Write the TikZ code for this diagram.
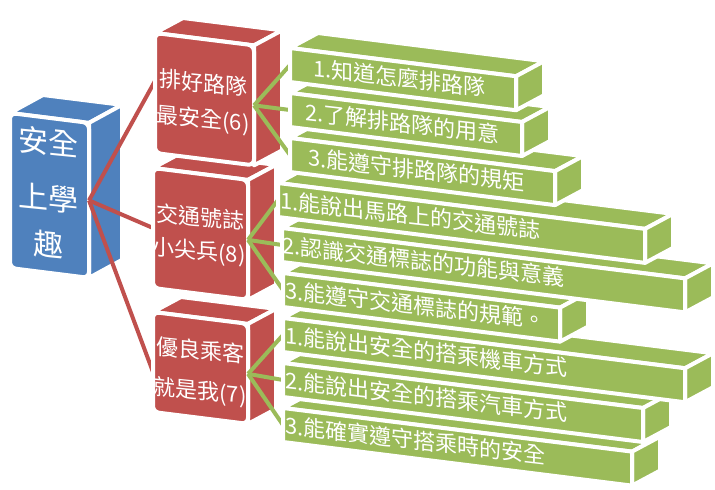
\documentclass[tikz,border=0pt]{standalone}
\usepackage{fontspec}
\setmainfont{Noto Sans CJK TC}
\usetikzlibrary{calc}
\definecolor{myblue}{HTML}{4F81BD}
\definecolor{myred}{HTML}{C0504D}
\definecolor{mygreen}{HTML}{9BBB59}
\def\slope{0.125}
\def\cdx{28}
\def\cdy{-15}
% #1 name #2 x #3 y #4 w #5 h #6 colour #7 extra front style
\newcommand\tdbox[7]{%
 \coordinate (#1-a) at (#2,#3);
 \coordinate (#1-b) at ({#2+#4},{#3+\slope*#4});
 \coordinate (#1-c) at ({#2+#4},{#3+\slope*#4+#5});
 \coordinate (#1-d) at (#2,{#3+#5});
 \coordinate (#1-w) at (#2,{#3+#5/2});
 \coordinate (#1-e) at ({#2+#4},{#3+\slope*#4+#5/2});
 \path[face,fill=#6] (#1-a) -- ++(\cdx,\cdy) -- ($(#1-b)+(\cdx,\cdy)$) -- (#1-b) -- cycle;
 \path[face,fill=#6] (#1-b) -- ++(\cdx,\cdy) -- ($(#1-c)+(\cdx,\cdy)$) -- (#1-c) -- cycle;
 \path[face,fill=#6,#7] (#1-a) -- (#1-b) -- (#1-c) -- (#1-d) -- cycle;
}
% #1 name #2 x #3 y #4 w #5 text x #6 text
\newcommand\gbar[6]{%
 \tdbox{#1}{#2}{#3}{#4}{34}{mygreen}{}
 \node[gtext] (#1t) at ({#5},{#3+17+\slope*(#5-#2)}) {#6};
}
\begin{document}
\begin{tikzpicture}[x=1pt,y=-1pt,
  face/.style={draw=white,line width=4pt,line join=round},
  gtext/.style={anchor=west,inner sep=0pt,text=white,font=\fontsize{22}{22}\selectfont,yslant=-0.115},
  rtext/.style={anchor=center,inner sep=0pt,text=white,font=\fontsize{22}{22}\selectfont,yslant=-0.1},
  btext/.style={anchor=center,inner sep=0pt,text=white,font=\fontsize{30}{30}\selectfont,yslant=-0.1},
  rline/.style={draw=myred,line width=4pt},
  gline/.style={draw=mygreen,line width=4pt}]
\useasboundingbox (0,0) rectangle (715,490);

% blue root
\begingroup
\def\cdx{33}\def\cdy{-18}
\tdbox{B}{10}{113}{79}{155}{myblue}{rounded corners=6pt}
\endgroup
\node[btext] (b1) at (48,142) {安全};
\node[btext] (b2) at (48,198) {上學};
\node[btext] (b3) at (48,245) {趣};

% red connectors (targets on the red boxes' left edges)
\coordinate (R1-in) at (155,81);
\coordinate (R2-in) at (153,228);
\coordinate (R3-in) at (153,372);
\draw[rline] (B-e) -- (R1-in);
\draw[rline] (B-e) -- (R2-in);
\draw[rline] (B-e) -- (R3-in);

% red boxes
\tdbox{R3}{153}{312}{95}{100}{myred}{rounded corners=6pt}
\tdbox{R2}{153}{168}{95}{120}{myred}{rounded corners=6pt}
\tdbox{R1}{155}{33}{99}{120}{myred}{rounded corners=6pt}
\node[rtext] (r1a) at (203,83) {排好路隊};
\node[rtext] (r1b) at (203,120) {最安全(6)};
\node[rtext] (r2a) at (200,217) {交通號誌};
\node[rtext] (r2b) at (199,252) {小尖兵(8)};
\node[rtext] (r3a) at (200,350) {優良乘客};
\node[rtext] (r3b) at (200,392) {就是我(7)};

% green bar anchors for connectors
\coordinate (G1-w) at (290,65);
\coordinate (G2-w) at (290,110);
\coordinate (G3-w) at (290,155);
\coordinate (G4-w) at (278,200);
\coordinate (G5-w) at (282,245);
\coordinate (G6-w) at (283,290);
\coordinate (G7-w) at (283,335);
\coordinate (G8-w) at (283,380);
\coordinate (G9-w) at (283,425);
\foreach \g in {G1,G2,G3} \draw[gline] (R1-e) -- (\g-w);
\foreach \g in {G4,G5,G6} \draw[gline] (R2-e) -- (\g-w);
\foreach \g in {G7,G8,G9} \draw[gline] (R3-e) -- (\g-w);

% green bars, lowest first
\gbar{G9}{283}{408}{349}{285}{3.能確實遵守搭乘時的安全}
\gbar{G8}{283}{363}{360}{285}{2.能說出安全的搭乘汽車方式}
\gbar{G7}{283}{318}{402}{285}{1.能說出安全的搭乘機車方式}
\gbar{G6}{283}{273}{277}{285}{3.能遵守交通標誌的規範。}
\gbar{G5}{282}{228}{403}{282}{2.認識交通標誌的功能與意義}
\gbar{G4}{278}{183}{367}{280}{1.能說出馬路上的交通號誌}
\gbar{G3}{290}{138}{265}{308}{3.能遵守排路隊的規矩}
\gbar{G2}{290}{93}{232}{305}{2.了解排路隊的用意}
\gbar{G1}{290}{48}{226}{313}{1.知道怎麼排路隊}
\end{tikzpicture}
\end{document}
